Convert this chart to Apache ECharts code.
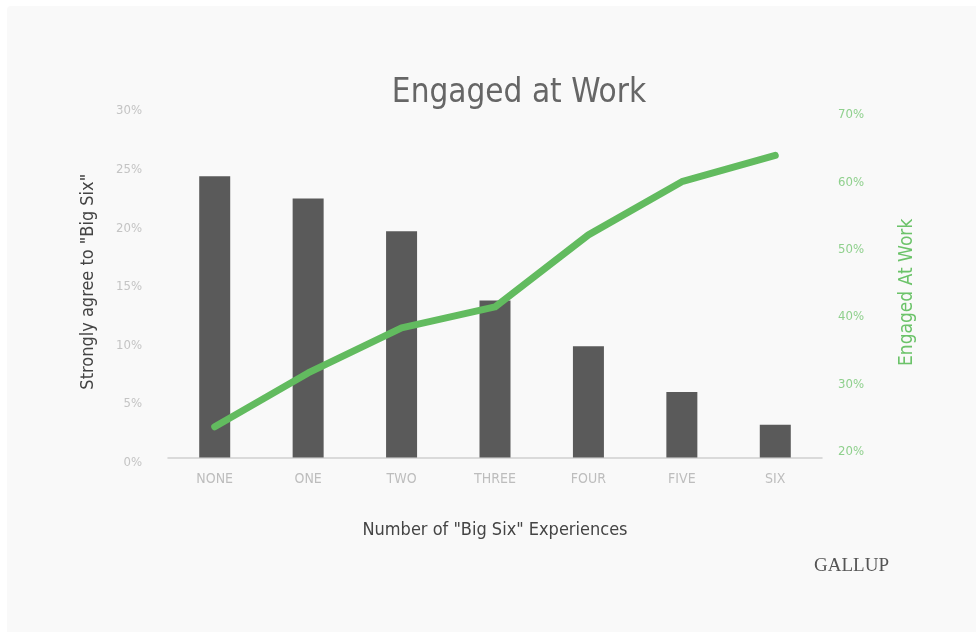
<!DOCTYPE html>
<html>
<head>
<meta charset="utf-8">
<script src="https://cdn.jsdelivr.net/npm/echarts@6/dist/echarts.min.js"></script>
<style>
  html, body { margin: 0; padding: 0; background: #fff; }
  #chart { width: 976px; height: 632px; }
</style>
</head>
<body>
<div id="chart"></div>
<script>
// Gallup "Engaged at Work" — bars = strongly agree to Big Six, line = engaged
const categories = ['NONE', 'ONE', 'TWO', 'THREE', 'FOUR', 'FIVE', 'SIX']
const stronglyAgree = [24.0, 22.1, 19.3, 13.4, 9.5, 5.6, 2.8]
const engaged = [23.7, 31.7, 38.4, 41.5, 52.2, 60.1, 64.0]
const leftTicks = [0, 30, 5]    // min, max, step
const rightTicks = [20, 70, 10]

const narrow = '"Liberation Sans Narrow", "DejaVu Sans Condensed", sans-serif'

const chart = echarts.init(document.getElementById('chart'), null, { renderer: 'canvas' })

chart.setOption({
  backgroundColor: '#ffffff',
  animation: false,
  title: {
    text: 'Engaged at Work',
    left: 514,
    textAlign: 'center',
    top: 72,
    textStyle: { fontFamily: narrow, fontSize: 33, fontWeight: 'normal', color: '#666666' },
  },
  graphic: [
    { type: 'rect', z: -10, silent: true,
      shape: { x: 7, y: 6, width: 980, height: 640, r: 4 },
      style: { fill: '#f9f9f9' } },
    { type: 'text', left: 814, top: 557,
      style: { text: 'GALLUP', font: '19px "Liberation Serif", "DejaVu Serif", serif', fill: '#555555' } },
  ],
  grid: [
    // bars (left axis)
    { left: 168, right: 154, top: 106, bottom: 174.5 },
    // line (right axis) — its ticks sit slightly off the left ones
    { left: 168, right: 154, top: 115, bottom: 180.3 },
  ],
  xAxis: [
    {
      type: 'category', gridIndex: 0, data: categories,
      name: 'Number of "Big Six" Experiences',
      nameLocation: 'middle', nameGap: 64,
      nameTextStyle: { fontFamily: narrow, fontSize: 18, color: '#444444' },
      axisLine: { lineStyle: { color: '#cfcfcf', width: 1.5 } },
      axisTick: { show: false },
      axisLabel: { fontFamily: narrow, fontSize: 14, color: '#bdbdbd', margin: 15 },
    },
    { type: 'category', gridIndex: 1, data: categories, show: false },
  ],
  yAxis: [
    {
      type: 'value', gridIndex: 0,
      min: leftTicks[0], max: leftTicks[1], interval: leftTicks[2],
      name: 'Strongly agree to "Big Six"',
      nameLocation: 'middle', nameGap: 71, nameRotate: 90,
      nameTextStyle: { fontFamily: narrow, fontSize: 18, color: '#444444' },
      axisLine: { show: false }, axisTick: { show: false }, splitLine: { show: false },
      axisLabel: { fontFamily: narrow, fontSize: 13, color: '#c4c4c4', margin: 26,
        verticalAlign: 'top', lineHeight: 10, formatter: (v) => v + '%' },
    },
    {
      type: 'value', gridIndex: 1, position: 'right',
      min: rightTicks[0], max: rightTicks[1], interval: rightTicks[2],
      name: 'Engaged At Work',
      nameLocation: 'middle', nameGap: 76, nameRotate: 90,
      nameTextStyle: { fontFamily: narrow, fontSize: 19, color: '#6cc36a', padding: [0, 18, 0, 0] },
      axisLine: { show: false }, axisTick: { show: false }, splitLine: { show: false },
      axisLabel: { fontFamily: narrow, fontSize: 13, color: '#8fd08d', margin: 16,
        formatter: (v) => v + '%' },
    },
  ],
  series: [
    {
      type: 'bar', name: 'Strongly agree', xAxisIndex: 0, yAxisIndex: 0,
      data: stronglyAgree, barWidth: 31,
      itemStyle: { color: '#5a5a5a' },
    },
    {
      type: 'line', name: 'Engaged', xAxisIndex: 1, yAxisIndex: 1,
      data: engaged, symbol: 'none',
      lineStyle: { color: '#62bb5f', width: 7, cap: 'round', join: 'round' },
      z: 3,
    },
  ],
})
</script>
</body>
</html>
